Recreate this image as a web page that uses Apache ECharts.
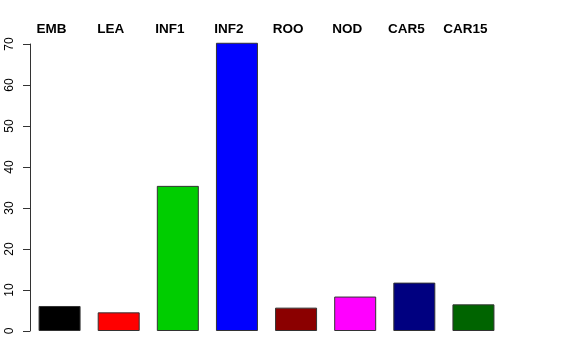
<!DOCTYPE html>
<html>
<head>
<meta charset="utf-8">
<script src="https://cdn.jsdelivr.net/npm/echarts@6/dist/echarts.min.js"></script>
<style>
html,body{margin:0;padding:0;background:#fff;}
#chart{width:576px;height:360px;}
</style>
</head>
<body>
<div id="chart"></div>
<script>
const categories = ["EMB", "LEA", "INF1", "INF2", "ROO", "NOD", "CAR5", "CAR15"];
const values = [6.1, 4.55, 35.4, 70.3, 5.7, 8.4, 11.8, 6.5];
const barColors = ["#000000", "#FF0000", "#00CD00", "#0000FF", "#8B0000", "#FF00FF", "#000080", "#006400"];
const yTicks = [0, 10, 20, 30, 40, 50, 60, 70];

const chart = echarts.init(document.getElementById('chart'), null, {renderer: 'canvas'});
chart.setOption({
  animation: false,
  backgroundColor: '#ffffff',
  grid: {left: 30, right: 73, top: 44, bottom: 29, containLabel: false},
  xAxis: {
    type: 'category',
    position: 'top',
    data: categories,
    axisLine: {show: false},
    axisTick: {show: false},
    axisLabel: {
      show: true,
      interval: 0,
      margin: 8,
      fontFamily: 'Liberation Sans, Arial, sans-serif',
      fontWeight: 'bold',
      fontSize: 13.5,
      color: '#000',
      padding: [0, 16, 0, 0]
    },
    splitLine: {show: false}
  },
  yAxis: {
    type: 'value',
    min: yTicks[0],
    max: yTicks[yTicks.length - 1],
    interval: 10,
    axisLine: {show: true, lineStyle: {color: '#333', width: 1}},
    axisTick: {show: true, inside: false, length: 7, lineStyle: {color: '#333', width: 1}},
    axisLabel: {
      show: true,
      rotate: 90,
      margin: 14,
      fontFamily: 'Liberation Sans, Arial, sans-serif',
      fontSize: 12,
      color: '#000'
    },
    splitLine: {show: false}
  },
  series: [{
    type: 'bar',
    clip: false,
    barWidth: 42,
    data: values.map((v, i) => ({
      value: v,
      itemStyle: {color: barColors[i], borderColor: '#333', borderWidth: 1}
    }))
  }]
});
</script>
</body>
</html>
